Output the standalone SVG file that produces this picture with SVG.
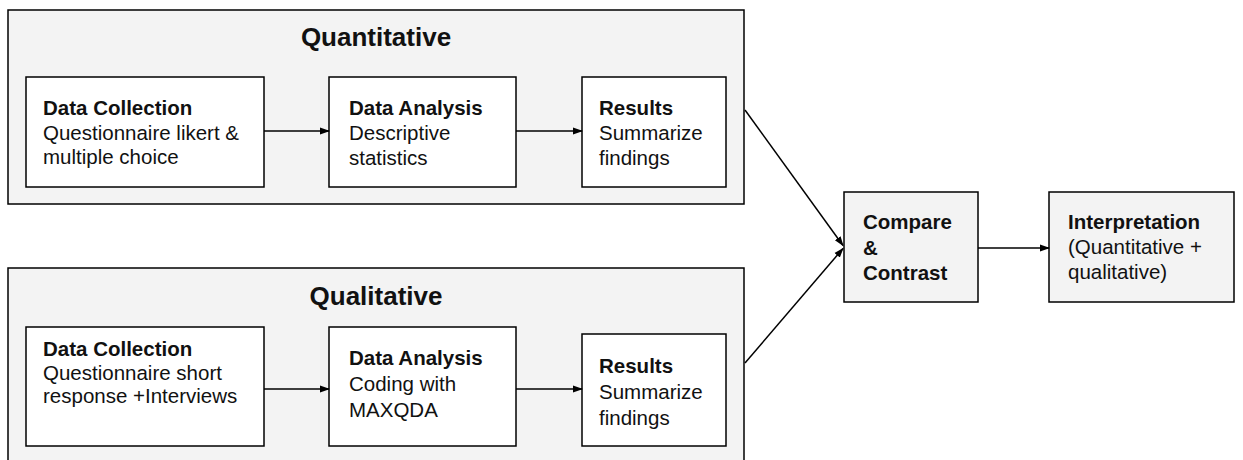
<svg xmlns="http://www.w3.org/2000/svg" width="1243" height="460" viewBox="0 0 1243 460">
<style>
.cont{fill:#f3f3f3;stroke:#000;stroke-width:1.5}
.box{fill:#fff;stroke:#000;stroke-width:1.5}
.gbox{fill:#f3f3f3;stroke:#000;stroke-width:1.5}
text{font-family:"Liberation Sans",Arial,sans-serif;font-size:20.5px;fill:#111}
.b{font-weight:bold}
.title{font-weight:bold;font-size:26px;text-anchor:middle}
.ln{stroke:#000;stroke-width:1.5;fill:none}
</style>
<defs>
<marker id="ah" markerWidth="10" markerHeight="10" refX="9" refY="5" orient="auto" markerUnits="userSpaceOnUse">
<path d="M0,1.5 L10,5 L0,8.5 Z" fill="#000"/>
</marker>
</defs>
<rect width="1243" height="460" fill="#fff"/>
<g id="quantitative">
<rect class="cont" x="8" y="10" width="736" height="194"/>
<text class="title" x="376" y="46">Quantitative</text>
</g>
<g id="qualitative">
<rect class="cont" x="8" y="268" width="736" height="200"/>
<text class="title" x="376" y="305">Qualitative</text>
</g>
<g id="quant-collection">
<rect class="box" x="26" y="77" width="238" height="110"/>
<text x="43" y="115"><tspan class="b">Data Collection</tspan><tspan x="43" y="139.5">Questionnaire likert &amp;</tspan><tspan x="43" y="164">multiple choice</tspan></text>
</g>
<g id="quant-analysis">
<rect class="box" x="329" y="77" width="187" height="110"/>
<text x="349" y="115"><tspan class="b">Data Analysis</tspan><tspan x="349" y="140">Descriptive</tspan><tspan x="349" y="165">statistics</tspan></text>
</g>
<g id="quant-results">
<rect class="box" x="582" y="77" width="144" height="110"/>
<text x="599" y="115"><tspan class="b">Results</tspan><tspan x="599" y="140">Summarize</tspan><tspan x="599" y="165">findings</tspan></text>
</g>
<g id="qual-collection">
<rect class="box" x="26" y="327" width="238" height="119"/>
<text x="43" y="356"><tspan class="b">Data Collection</tspan><tspan x="43" y="379.5">Questionnaire short</tspan><tspan x="43" y="403">response +Interviews</tspan></text>
</g>
<g id="qual-analysis">
<rect class="box" x="329" y="327" width="187" height="119"/>
<text x="349" y="365"><tspan class="b">Data Analysis</tspan><tspan x="349" y="391">Coding with</tspan><tspan x="349" y="417">MAXQDA</tspan></text>
</g>
<g id="qual-results">
<rect class="box" x="582" y="334" width="144" height="112"/>
<text x="599" y="373"><tspan class="b">Results</tspan><tspan x="599" y="399">Summarize</tspan><tspan x="599" y="425">findings</tspan></text>
</g>
<g id="compare">
<rect class="gbox" x="844" y="192" width="134" height="110"/>
<text class="b" x="863" y="229"><tspan>Compare</tspan><tspan x="863" y="254.5">&amp;</tspan><tspan x="863" y="280">Contrast</tspan></text>
</g>
<g id="interpretation">
<rect class="gbox" x="1049" y="192" width="185" height="110"/>
<text x="1068" y="229"><tspan class="b">Interpretation</tspan><tspan x="1068" y="254">(Quantitative +</tspan><tspan x="1068" y="279">qualitative)</tspan></text>
</g>
<g id="connectors">
<line class="ln" x1="264" y1="131" x2="329" y2="131" marker-end="url(#ah)"/>
<line class="ln" x1="516" y1="131" x2="582" y2="131" marker-end="url(#ah)"/>
<line class="ln" x1="264" y1="389" x2="329" y2="389" marker-end="url(#ah)"/>
<line class="ln" x1="516" y1="389" x2="582" y2="389" marker-end="url(#ah)"/>
<line class="ln" x1="745" y1="110" x2="843" y2="245.5" marker-end="url(#ah)"/>
<line class="ln" x1="745" y1="363" x2="843" y2="248.5" marker-end="url(#ah)"/>
<line class="ln" x1="978" y1="248" x2="1049" y2="248" marker-end="url(#ah)"/>
</g>
</svg>
